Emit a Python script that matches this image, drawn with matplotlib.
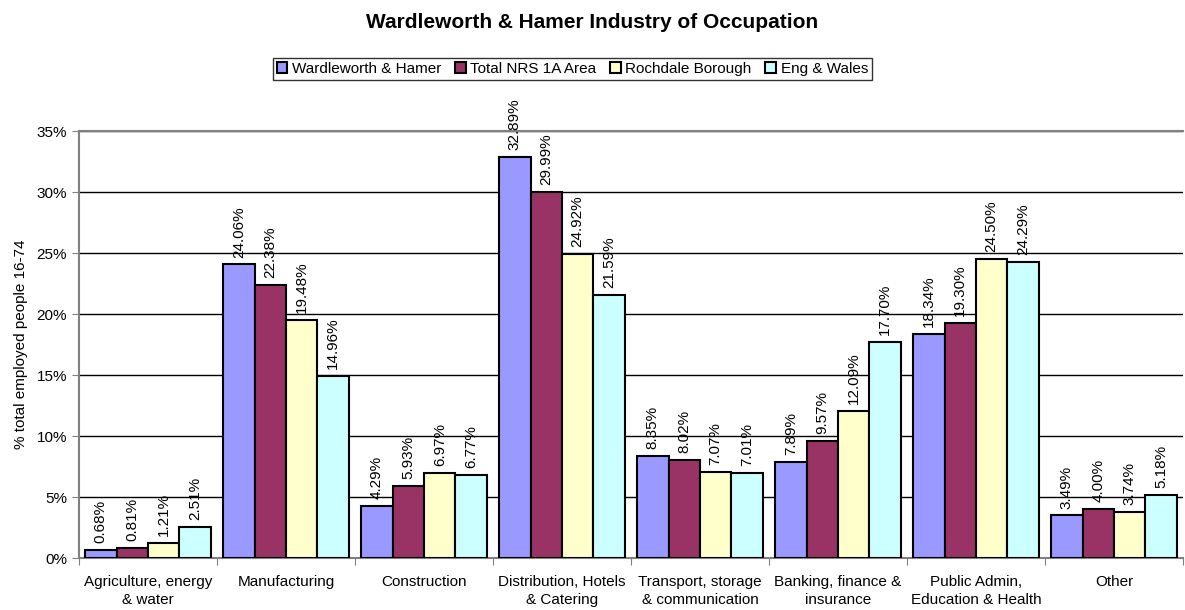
import matplotlib
matplotlib.use('Agg')
from matplotlib import pyplot as plt
import numpy as np

plt.rcParams['font.family'] = ['Liberation Sans', 'DejaVu Sans']

categories = ['Agriculture, energy\n& water', 'Manufacturing', 'Construction',
              'Distribution, Hotels\n& Catering', 'Transport, storage\n& communication',
              'Banking, finance &\ninsurance', 'Public Admin,\nEducation & Health', 'Other']
series_names = ['Wardleworth & Hamer', 'Total NRS 1A Area', 'Rochdale Borough', 'Eng & Wales']
wardleworth = [0.68, 24.06, 4.29, 32.89, 8.35, 7.89, 18.34, 3.49]
nrs_1a = [0.81, 22.38, 5.93, 29.99, 8.02, 9.57, 19.30, 4.00]
rochdale = [1.21, 19.48, 6.97, 24.92, 7.07, 12.09, 24.50, 3.74]
eng_wales = [2.51, 14.96, 6.77, 21.59, 7.01, 17.70, 24.29, 5.18]
colors = ['#9999FF', '#993366', '#FFFFCC', '#CCFFFF']

fig = plt.figure(figsize=(11.85, 6.10), dpi=100)
ax = fig.add_axes([0.0667, 0.0852, 0.9316, 0.7000])

x = np.arange(len(categories))
w = 0.228
all_series = [wardleworth, nrs_1a, rochdale, eng_wales]
for i, (vals, name, c) in enumerate(zip(all_series, series_names, colors)):
    pos = x + (i - 1.5) * w
    ax.bar(pos, vals, w, color=c, edgecolor='black', linewidth=1.5, label=name, zorder=3)
    for p, v in zip(pos, vals):
        ax.annotate('%.2f%%' % v, (p, v), xytext=(0, 5), textcoords='offset points',
                    rotation=90, ha='center', va='bottom', fontsize=11)

ax.set_xlim(-0.5, len(categories) - 0.5)
ax.set_ylim(0, 35)
ax.set_yticks(np.arange(0, 36, 5))
ax.set_yticklabels(['%d%%' % t for t in range(0, 36, 5)], fontsize=11)
ax.yaxis.grid(True, color='black', linewidth=1, zorder=0)
ax.set_xticks(np.arange(-0.5, len(categories), 1))
ax.set_xticklabels([])
ax.set_xticks(x, minor=True)
ax.set_xticklabels(categories, minor=True, fontsize=11, linespacing=1.35)
ax.tick_params(axis='x', which='minor', length=0, pad=12)
ax.tick_params(axis='x', which='major', length=5, color='#808080')
ax.tick_params(axis='y', length=5, color='#808080')
for s in ['left', 'bottom', 'top']:
    ax.spines[s].set_color('#808080')
    ax.spines[s].set_linewidth(1.5)
ax.spines['right'].set_visible(False)
ax.set_ylabel('% total employed people 16-74', fontsize=11, labelpad=6)

fig.suptitle('Wardleworth & Hamer Industry of Occupation', fontsize=15, fontweight='bold', y=0.978)
leg = fig.legend(loc='upper center', bbox_to_anchor=(0.483, 0.917), ncol=4, fontsize=11,
                 frameon=True, fancybox=False, edgecolor='black', handlelength=0.7,
                 handleheight=0.7, handletextpad=0.3, columnspacing=0.9, borderpad=0.25)
leg.get_frame().set_linewidth(1)

fig.savefig('out.png', dpi=100)
